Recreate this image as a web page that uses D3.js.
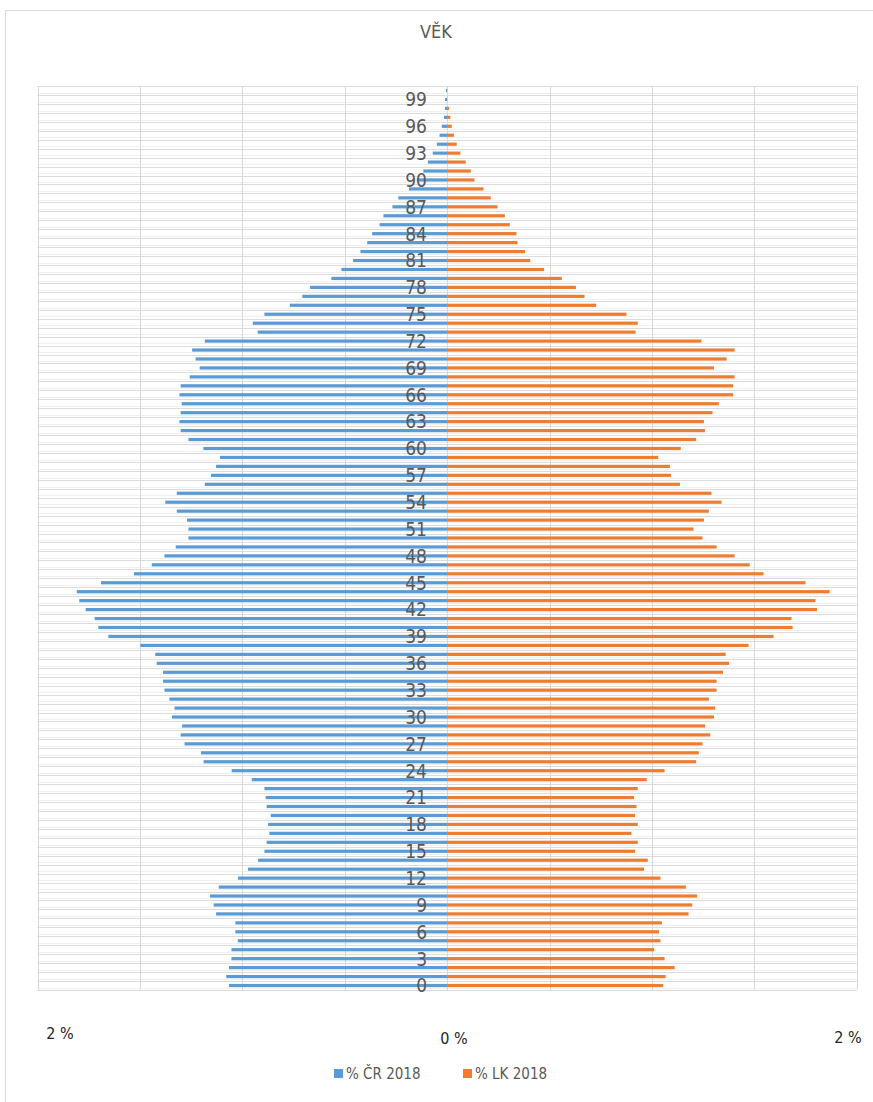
<!DOCTYPE html>
<html>
<head>
<meta charset="utf-8">
<script src="https://cdn.jsdelivr.net/npm/d3@7"></script>
<style>
  body { margin:0; background:#fff; }
  svg text { font-family:"Liberation Sans Narrow","DejaVu Sans Condensed","Open Sans",sans-serif; }
</style>
</head>
<body>
<div class="chart"></div>
<script>
// ages 0..100
var ages = d3.range(0, 101);
// % ČR 2018 (blue, left side)
var crValues = [1.065,1.078,1.065,1.053,1.053,1.022,1.034,1.034,1.128,1.140,
                1.158,1.115,1.021,0.972,0.923,0.892,0.881,0.868,0.874,0.861,
                0.881,0.886,0.892,0.954,1.052,1.189,1.202,1.282,1.301,1.294,
                1.343,1.331,1.356,1.380,1.387,1.387,1.418,1.425,1.498,1.654,
                1.703,1.721,1.765,1.796,1.808,1.690,1.529,1.442,1.380,1.325,
                1.263,1.263,1.270,1.320,1.376,1.320,1.183,1.153,1.128,1.109,
                1.190,1.263,1.301,1.307,1.301,1.296,1.307,1.301,1.257,1.208,
                1.228,1.245,1.183,0.925,0.949,0.892,0.768,0.707,0.669,0.565,
                0.516,0.459,0.423,0.390,0.366,0.330,0.311,0.267,0.238,0.186,
                0.148,0.116,0.094,0.070,0.050,0.037,0.026,0.015,0.010,0.010,
                0.006];
// % LK 2018 (orange, right side)
var lkValues = [1.055,1.067,1.111,1.062,1.011,1.042,1.035,1.049,1.179,1.197,
                1.221,1.166,1.042,0.962,0.980,0.918,0.931,0.900,0.931,0.918,
                0.925,0.913,0.931,0.975,1.062,1.216,1.229,1.247,1.285,1.260,
                1.303,1.309,1.278,1.316,1.316,1.347,1.377,1.360,1.472,1.594,
                1.687,1.682,1.806,1.799,1.868,1.750,1.545,1.478,1.404,1.316,
                1.247,1.203,1.254,1.278,1.340,1.291,1.137,1.093,1.088,1.031,
                1.141,1.216,1.259,1.254,1.296,1.327,1.397,1.397,1.404,1.303,
                1.365,1.404,1.242,0.920,0.931,0.876,0.728,0.671,0.629,0.560,
                0.474,0.406,0.381,0.344,0.339,0.306,0.282,0.246,0.213,0.178,
                0.134,0.116,0.091,0.065,0.047,0.034,0.023,0.016,0.010,0.000,
                0.000];
var ageTicks = d3.range(0, 100, 3);
var xTickLabels = ["2 %", "0 %", "2 %"];
var seriesNames = ["% ČR 2018", "% LK 2018"];
var colors = ["#5B9BD5", "#ED7D31"];

var W = 873, H = 1102;
var svg = d3.select(".chart").append("svg").attr("width", W).attr("height", H);

// chart border
svg.append("rect").attr("x", 5.5).attr("y", 10.5).attr("width", 900).attr("height", 1120)
   .attr("fill", "none").attr("stroke", "#d9d9d9");

//Title
svg.append("text").attr("x", 436).attr("y", 38).attr("text-anchor", "middle")
   .attr("font-size", "18px").attr("fill", "#595959").text("VĚK");

var x = d3.scaleLinear().domain([-2, 2]).range([37.5, 856.7]);
var y = d3.scaleBand().domain(ages.slice().reverse()).range([86, 990]).paddingInner(0.64).paddingOuter(0.32);
var step = y.step();

var g = svg.append("g");

// horizontal grid: minor + major
ages.forEach(function(a){
    var top = y(a) - y.paddingOuter() * step;
    g.append("line").attr("x1", x(-2)).attr("x2", x(2))
     .attr("y1", Math.round(top + step * 0.75) + 0.5).attr("y2", Math.round(top + step * 0.75) + 0.5)
     .attr("stroke", "#f0f0f0");
    g.append("line").attr("x1", x(-2)).attr("x2", x(2))
     .attr("y1", Math.round(top) + 0.5).attr("y2", Math.round(top) + 0.5)
     .attr("stroke", "#dcdcdc");
});
g.append("line").attr("x1", x(-2)).attr("x2", x(2)).attr("y1", 990.5).attr("y2", 990.5).attr("stroke", "#d9d9d9");

// vertical grid
d3.range(-2, 2.01, 0.5).forEach(function(v){
    g.append("line").attr("x1", Math.round(x(v)) + 0.5).attr("x2", Math.round(x(v)) + 0.5)
     .attr("y1", 86).attr("y2", 990).attr("stroke", "#d9d9d9");
});

// bars
g.selectAll(".cr").data(ages).enter().append("rect").attr("class", "cr")
 .attr("x", function(d){ return x(-crValues[d]); })
 .attr("width", function(d){ return x(0) - x(-crValues[d]); })
 .attr("y", function(d){ return y(d); })
 .attr("height", y.bandwidth())
 .attr("fill", colors[0]);

g.selectAll(".lk").data(ages).enter().append("rect").attr("class", "lk")
 .attr("x", x(0))
 .attr("width", function(d){ return x(lkValues[d]) - x(0); })
 .attr("y", function(d){ return y(d); })
 .attr("height", y.bandwidth())
 .attr("fill", colors[1]);

// age labels
g.selectAll(".age").data(ageTicks).enter().append("text").attr("class", "age")
 .attr("x", 427).attr("y", function(d){ return y(d) + y.bandwidth() / 2; })
 .attr("dy", "0.36em").attr("text-anchor", "end")
 .attr("font-size", "19px").attr("fill", "#595959")
 .text(function(d){ return d; });

// x axis labels
var xLab = [{t: xTickLabels[0], x: 60, y: 1039}, {t: xTickLabels[1], x: 454, y: 1044}, {t: xTickLabels[2], x: 848, y: 1043}];
svg.selectAll(".xl").data(xLab).enter().append("text").attr("class", "xl")
   .attr("x", function(d){ return d.x; }).attr("y", function(d){ return d.y; })
   .attr("text-anchor", "middle").attr("font-size", "16px").attr("fill", "#262626")
   .text(function(d){ return d.t; });

// legend
var leg = svg.append("g").attr("transform", "translate(334,1068)");
seriesNames.forEach(function(n, i){
    var lg = leg.append("g").attr("transform", "translate(" + (i * 129) + ",0)");
    lg.append("rect").attr("width", 9).attr("height", 9).attr("y", 1).attr("fill", colors[i]);
    lg.append("text").attr("x", 12).attr("y", 11).attr("font-size", "15px").attr("fill", "#595959").text(n);
});
</script>
</body>
</html>
